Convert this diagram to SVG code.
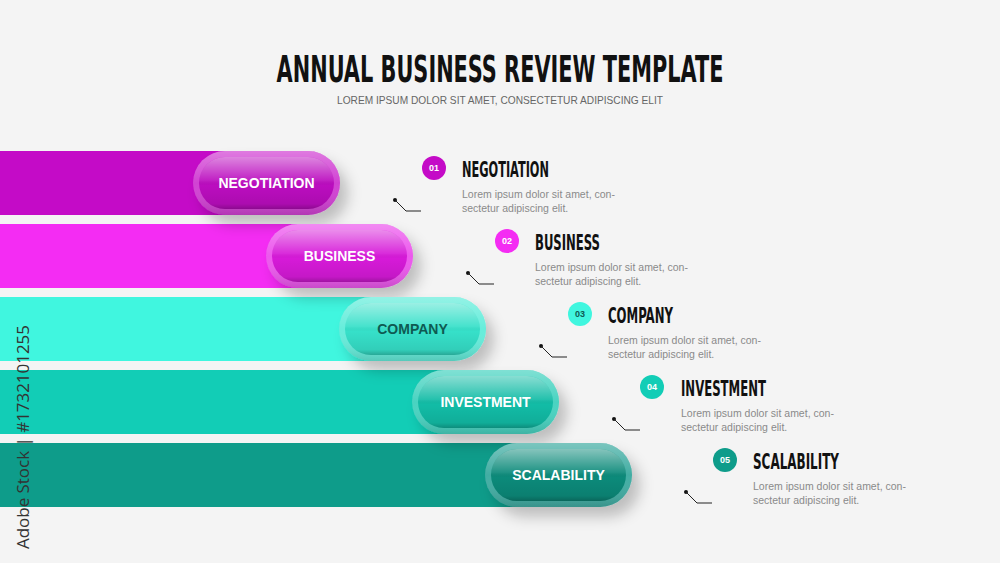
<svg xmlns="http://www.w3.org/2000/svg" width="1000" height="563" viewBox="0 0 1000 563">
<defs>
<style>
.title{font-family:"DejaVu Sans Condensed","DejaVu Sans","Liberation Sans",sans-serif;font-stretch:condensed;font-weight:bold;fill:#111}
.pilltxt{font-family:"Liberation Sans",Arial,sans-serif;font-weight:bold;font-size:14px;fill:#fff;text-anchor:middle}
.num{font-family:"Liberation Sans",Arial,sans-serif;font-weight:bold;font-size:9px;fill:#fff;text-anchor:middle}
.head{font-family:"DejaVu Sans Condensed","DejaVu Sans","Liberation Sans",sans-serif;font-stretch:condensed;font-weight:bold;font-size:21px;fill:#111}
.desc{font-family:"Liberation Sans",Arial,sans-serif;font-size:10.5px;fill:#8a8a8a}
.conn{fill:none;stroke:#222;stroke-width:1}
.gloss{fill:url(#gloss)}
.shade{fill:url(#shade)}
.rim{fill:#fff;fill-opacity:0.22}
</style>
<linearGradient id="gloss" x1="0" y1="0" x2="0" y2="1">
<stop offset="0" stop-color="#fff" stop-opacity="0.5"/>
<stop offset="0.45" stop-color="#fff" stop-opacity="0.08"/>
<stop offset="0.55" stop-color="#000" stop-opacity="0"/>
<stop offset="0.9" stop-color="#000" stop-opacity="0.08"/>
<stop offset="1" stop-color="#000" stop-opacity="0.25"/>
</linearGradient>
<linearGradient id="shade" x1="0" y1="0" x2="0" y2="1">
<stop offset="0" stop-color="#fff" stop-opacity="0.3"/>
<stop offset="0.5" stop-color="#fff" stop-opacity="0"/>
<stop offset="1" stop-color="#000" stop-opacity="0.15"/>
</linearGradient>
<filter id="sh" x="-30%" y="-30%" width="170%" height="190%">
<feDropShadow dx="8" dy="10" stdDeviation="7" flood-color="#000" flood-opacity="0.22"/>
</filter>
</defs>
<rect width="1000" height="563" fill="#f4f4f4"/>

<g id="header">
<text class="title" transform="translate(500,82) scale(0.61,1)" x="0" y="0" font-size="38" text-anchor="middle">ANNUAL BUSINESS REVIEW TEMPLATE</text>
<text x="500" y="104" text-anchor="middle" font-family="Liberation Sans, Arial, sans-serif" font-size="10.5" fill="#666" textLength="326" lengthAdjust="spacingAndGlyphs">LOREM IPSUM DOLOR SIT AMET, CONSECTETUR ADIPISCING ELIT</text>
</g>

<g id="bars">
<rect x="0" y="151" width="270" height="64" fill="#c40bc7"/>
<rect x="0" y="224" width="343" height="64" fill="#f42cf3"/>
<rect x="0" y="297" width="416" height="64" fill="#40f6df"/>
<rect x="0" y="370" width="489" height="64" fill="#12cdb6"/>
<rect x="0" y="443" width="562" height="64" fill="#0e9c8a"/>
</g>

<g id="node1">
<rect x="193" y="151" width="147" height="64" rx="32" fill="#c40bc7" filter="url(#sh)"/>
<rect x="193" y="151" width="147" height="64" rx="32" class="rim"/>
<rect x="193" y="151" width="147" height="64" rx="32" class="shade"/>
<rect x="199" y="157" width="135" height="52" rx="26" fill="#bb0dbf"/>
<rect x="199" y="157" width="135" height="52" rx="26" class="gloss"/>
<text class="pilltxt" x="266.5" y="188">NEGOTIATION</text>
</g>
<g id="node2">
<rect x="266" y="224" width="147" height="64" rx="32" fill="#e72ae8" filter="url(#sh)"/>
<rect x="266" y="224" width="147" height="64" rx="32" class="rim"/>
<rect x="266" y="224" width="147" height="64" rx="32" class="shade"/>
<rect x="272" y="230" width="135" height="52" rx="26" fill="#d61ad8"/>
<rect x="272" y="230" width="135" height="52" rx="26" class="gloss"/>
<text class="pilltxt" x="339.5" y="261">BUSINESS</text>
</g>
<g id="node3">
<rect x="339" y="297" width="147" height="64" rx="32" fill="#3ae8d1" filter="url(#sh)"/>
<rect x="339" y="297" width="147" height="64" rx="32" class="rim"/>
<rect x="339" y="297" width="147" height="64" rx="32" class="shade"/>
<rect x="345" y="303" width="135" height="52" rx="26" fill="#36e0c9"/>
<rect x="345" y="303" width="135" height="52" rx="26" class="gloss"/>
<text class="pilltxt" x="412.5" y="334" style="fill:#0f5a52">COMPANY</text>
</g>
<g id="node4">
<rect x="412" y="370" width="147" height="64" rx="32" fill="#16c7b0" filter="url(#sh)"/>
<rect x="412" y="370" width="147" height="64" rx="32" class="rim"/>
<rect x="412" y="370" width="147" height="64" rx="32" class="shade"/>
<rect x="418" y="376" width="135" height="52" rx="26" fill="#12bca6"/>
<rect x="418" y="376" width="135" height="52" rx="26" class="gloss"/>
<text class="pilltxt" x="485.5" y="407">INVESTMENT</text>
</g>
<g id="node5">
<rect x="485" y="443" width="147" height="64" rx="32" fill="#10968a" filter="url(#sh)"/>
<rect x="485" y="443" width="147" height="64" rx="32" class="rim"/>
<rect x="485" y="443" width="147" height="64" rx="32" class="shade"/>
<rect x="491" y="449" width="135" height="52" rx="26" fill="#0c8a7a"/>
<rect x="491" y="449" width="135" height="52" rx="26" class="gloss"/>
<text class="pilltxt" x="558.5" y="480">SCALABILITY</text>
</g>

<g id="info1">
<circle cx="434" cy="168" r="12" fill="#c40bc7"/>
<text class="num" x="434" y="171">01</text>
<text class="head" x="462" y="177" textLength="87" lengthAdjust="spacingAndGlyphs">NEGOTIATION</text>
<text class="desc" x="462" y="198">Lorem ipsum dolor sit amet, con-</text>
<text class="desc" x="462" y="212">sectetur adipiscing elit.</text>
</g>
<g id="info2">
<circle cx="507" cy="241" r="12" fill="#f42cf3"/>
<text class="num" x="507" y="244">02</text>
<text class="head" x="535" y="250" textLength="65" lengthAdjust="spacingAndGlyphs">BUSINESS</text>
<text class="desc" x="535" y="271">Lorem ipsum dolor sit amet, con-</text>
<text class="desc" x="535" y="285">sectetur adipiscing elit.</text>
</g>
<g id="info3">
<circle cx="580" cy="314" r="12" fill="#40f6df"/>
<text class="num" x="580" y="317" style="fill:#0f5a52">03</text>
<text class="head" x="608" y="323" textLength="65" lengthAdjust="spacingAndGlyphs">COMPANY</text>
<text class="desc" x="608" y="344">Lorem ipsum dolor sit amet, con-</text>
<text class="desc" x="608" y="358">sectetur adipiscing elit.</text>
</g>
<g id="info4">
<circle cx="652" cy="387" r="12" fill="#12cdb6"/>
<text class="num" x="652" y="390">04</text>
<text class="head" x="681" y="396" textLength="85" lengthAdjust="spacingAndGlyphs">INVESTMENT</text>
<text class="desc" x="681" y="417">Lorem ipsum dolor sit amet, con-</text>
<text class="desc" x="681" y="431">sectetur adipiscing elit.</text>
</g>
<g id="info5">
<circle cx="725" cy="460" r="12" fill="#0e9c8a"/>
<text class="num" x="725" y="463">05</text>
<text class="head" x="753" y="469" textLength="86" lengthAdjust="spacingAndGlyphs">SCALABILITY</text>
<text class="desc" x="753" y="490">Lorem ipsum dolor sit amet, con-</text>
<text class="desc" x="753" y="504">sectetur adipiscing elit.</text>
</g>

<g id="connectors">
<circle cx="395" cy="200" r="2" fill="#111"/>
<polyline class="conn" points="395,200 406,211 421,211"/>
<circle cx="468" cy="273" r="2" fill="#111"/>
<polyline class="conn" points="468,273 479,284 494,284"/>
<circle cx="541" cy="346" r="2" fill="#111"/>
<polyline class="conn" points="541,346 552,357 567,357"/>
<circle cx="614" cy="419" r="2" fill="#111"/>
<polyline class="conn" points="614,419 625,430 640,430"/>
<circle cx="686" cy="492" r="2" fill="#111"/>
<polyline class="conn" points="686,492 697,503 712,503"/>
</g>

<text transform="translate(29,549) rotate(-90)" font-family="Open Sans, Liberation Sans, sans-serif" font-size="16" fill="#333" textLength="224" lengthAdjust="spacingAndGlyphs">Adobe Stock | #1732101255</text>
</svg>
